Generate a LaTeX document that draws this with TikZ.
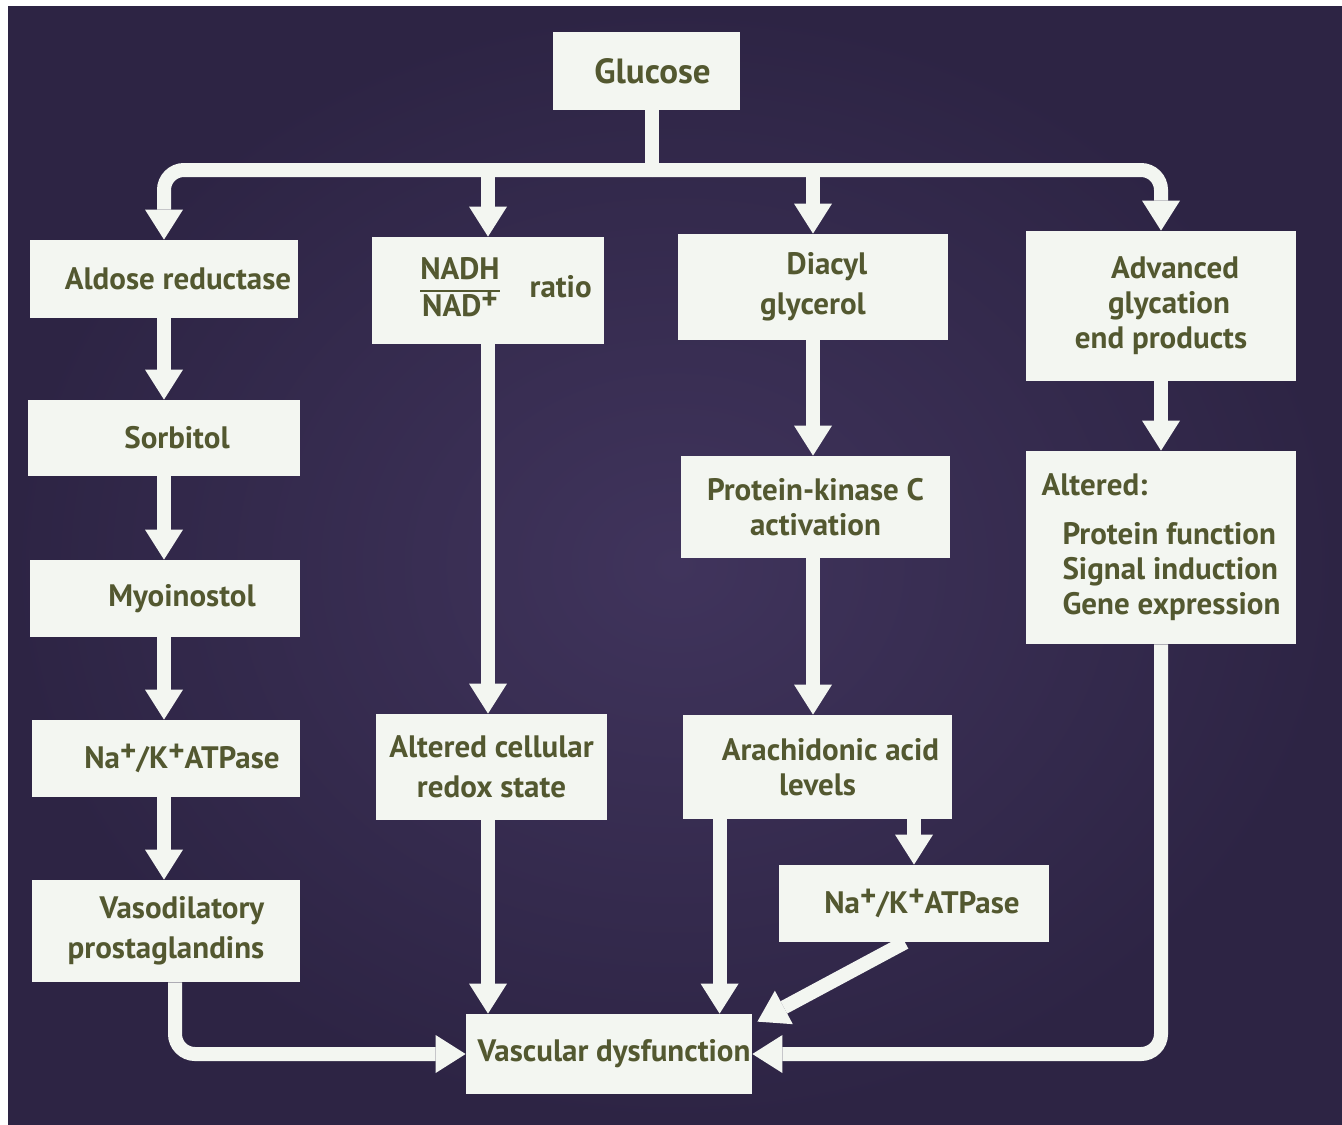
\documentclass[tikz,border=0pt]{standalone}
\usepackage{fontspec}
\setmainfont{PT Sans}
\usetikzlibrary{arrows.meta,calc}
\definecolor{boxwhite}{HTML}{F3F6F1}
\definecolor{olive}{HTML}{535830}
\definecolor{bgmid}{HTML}{40345C}
\definecolor{bgedge}{HTML}{2D2444}
\setlength{\arrayrulewidth}{1pt}
\newcommand{\ionplus}{\raisebox{0.45ex}{+}}
\begin{document}
\begin{tikzpicture}[x=0.5pt,y=-0.5pt,
  box/.style={rectangle, fill=boxwhite, text=olive, inner sep=0pt, align=center,
    font=\bfseries\fontsize{15.5}{17.5}\selectfont},
  flow/.style={draw=boxwhite, line width=7pt, rounded corners=10pt,
    -{Triangle[width=19pt,length=15pt,line width=0pt]}},
  wire/.style={draw=boxwhite, line width=7pt}]
% Background
\fill[white] (0,0) rectangle (1342,1124);
\shade[inner color=bgmid, outer color=bgedge] (8,6) rectangle (1342,1124);
\useasboundingbox (0,0) rectangle (1342,1124);
% Boxes
\node[box, minimum width=93.5pt, minimum height=39pt, font=\bfseries\fontsize{17.5}{20}\selectfont] (glu) at (646.5,71) {\hspace*{6pt}Glucose};
% left column: polyol pathway
\node[box, minimum width=134pt, minimum height=39pt] (aldose) at (164,279) {\hspace*{14pt}Aldose reductase};
\node[box, minimum width=136pt, minimum height=38pt] (sorb) at (164,438) {\hspace*{13pt}Sorbitol};
\node[box, minimum width=135pt, minimum height=38.5pt] (myo) at (165,598.5) {\hspace*{17pt}Myoinostol};
\node[box, minimum width=134pt, minimum height=38.5pt] (na1) at (166,758.5) {\hspace*{16pt}Na\ionplus/K\ionplus ATPase};
\node[box, minimum width=134pt, minimum height=51pt] (vaso) at (166,931) {\hspace*{16pt}Vasodilatory\\[2.5pt]prostaglandins};
% second column: redox
\node[box, minimum width=116pt, minimum height=53.5pt] (nadh) at (488,290.5)
  {\hspace*{18pt}\begin{tabular}{@{}c@{}}NADH\\\hline NAD\ionplus\end{tabular}\hspace{15pt}ratio};
\node[box, minimum width=115.5pt, minimum height=53pt] (redox) at (491.5,767) {Altered cellular\\[2.5pt]redox state};
% third column: DAG / PKC
\node[box, minimum width=135pt, minimum height=53pt] (dag) at (813,287) {\hspace*{14pt}Diacyl\\[2.5pt]glycerol};
\node[box, minimum width=134.5pt, minimum height=51pt] (pkc) at (815.5,507) {Protein-kinase C\\activation};
\node[box, minimum width=134.5pt, minimum height=52pt] (arach) at (817.5,767) {\hspace*{13pt}Arachidonic acid\\levels};
\node[box, minimum width=135pt, minimum height=38.5pt] (na2) at (914,903.5) {\hspace*{8pt}Na\ionplus/K\ionplus ATPase};
% right column: AGE
\node[box, minimum width=135pt, minimum height=75pt] (age) at (1161,306) {\hspace*{14pt}Advanced\\\hspace*{8pt}glycation\\end products};
\node[box, minimum width=135pt, minimum height=96.5pt, align=left] (alt) at (1161,547.5)
  {Altered:\\[7pt]\hspace*{10.5pt}Protein function\\\hspace*{10.5pt}Signal induction\\\hspace*{10.5pt}Gene expression};
% outcome
\node[box, minimum width=143pt, minimum height=40pt] (vasc) at (609,1054) {\hspace*{5pt}Vascular dysfunction};
% Glucose bus
\coordinate (bus) at (652,170);
\draw[wire] (glu.south -| bus) -- (bus);
\draw[flow] (bus) -| (aldose.north);
\draw[flow] (bus) -| (age.north);
\draw[flow] (nadh.north |- bus) -- (nadh.north);
\draw[flow] (dag.north |- bus) -- (dag.north);
% Polyol chain
\draw[flow] (aldose.south) -- (aldose.south |- sorb.north);
\draw[flow] (aldose.south |- sorb.south) -- (aldose.south |- myo.north);
\draw[flow] (aldose.south |- myo.south) -- (aldose.south |- na1.north);
\draw[flow] (aldose.south |- na1.south) -- (aldose.south |- vaso.north);
\coordinate (vasoout) at ($(vaso.south)+(9,0)$);
\draw[flow] (vasoout) |- (vasc.west);
% Redox
\draw[flow] (nadh.south) -- (nadh.south |- redox.north);
\draw[flow] (nadh.south |- redox.south) -- (nadh.south |- vasc.north);
% PKC
\draw[flow] (dag.south) -- (dag.south |- pkc.north);
\draw[flow] (dag.south |- pkc.south) -- (dag.south |- arach.north);
\coordinate (arachout) at ($(arach.south west)+(37,0)$);
\draw[flow] (arachout) -- (arachout |- vasc.north);
\draw[flow] (na2.north |- arach.south) -- (na2.north);
\coordinate (naout) at ($(na2.south)+(-9,0)$);
\coordinate (vascin) at ($(vasc.north east)+(5,8)$);
\draw[flow] (naout) -- (vascin);
% AGE
\draw[flow] (age.south) -- (alt.north);
\draw[flow] (alt.south) |- (vasc.east);
\end{tikzpicture}
\end{document}
